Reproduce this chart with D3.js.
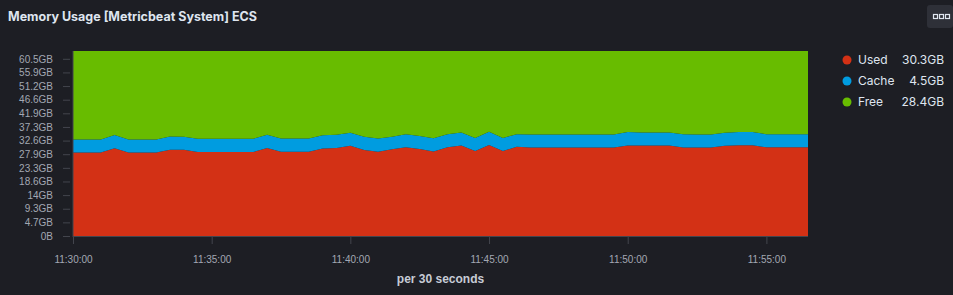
<!DOCTYPE html>
<html><head><meta charset="utf-8">
<script src="https://cdn.jsdelivr.net/npm/d3@7"></script>
<style>
html,body{margin:0;padding:0;background:#1d1e24;}
svg{display:block;}
</style></head>
<body>
<svg id="c" width="953" height="295"></svg>
<script>
// ---- data (GiB), one point per 30 seconds starting 11:30:00 ----
const startTime = "2024-01-01T11:30:00";
const stepSeconds = 30;
const used = [28.5,28.5,28.5,30.0,28.5,28.5,28.5,29.5,29.5,28.7,28.7,28.7,28.7,28.7,30.1,28.8,28.8,28.8,29.9,30.1,30.8,29.4,28.8,29.6,30.3,29.7,28.9,30.3,30.9,29.0,31.1,29.0,30.5,30.2,30.2,30.2,30.2,30.2,30.2,30.2,30.9,30.9,30.9,30.9,30.2,30.2,30.2,30.8,31.0,31.0,30.3,30.3,30.3,30.3];
const cache = [4.5,4.5,4.5,4.5,4.5,4.5,4.5,4.5,4.4,4.5,4.5,4.5,4.5,4.5,4.5,4.5,4.5,4.5,4.5,4.5,4.5,4.5,4.5,4.3,4.5,4.5,4.5,4.5,4.5,4.5,4.5,4.5,4.3,4.5,4.5,4.5,4.5,4.5,4.5,4.5,4.6,4.5,4.5,4.5,4.6,4.5,4.5,4.5,4.5,4.5,4.5,4.5,4.5,4.5];
const free = [30.2,30.2,30.2,28.7,30.2,30.2,30.2,29.2,29.3,30.0,30.0,30.0,30.0,30.0,28.6,29.9,29.9,29.9,28.8,28.6,27.9,29.3,29.9,29.3,28.4,29.0,29.8,28.4,27.8,29.7,27.6,29.7,28.4,28.5,28.5,28.5,28.5,28.5,28.5,28.5,27.7,27.8,27.8,27.8,28.4,28.5,28.5,27.9,27.7,27.7,28.4,28.4,28.4,28.4];
const seriesNames = ["Used","Cache","Free"];
const seriesColors = ["#D33115","#009CE0","#68BC00"];
const legendValues = ["30.3GB","4.5GB","28.4GB"];
const yTickBytes = [0,5e9,10e9,15e9,20e9,25e9,30e9,35e9,40e9,45e9,50e9,55e9,60e9,65e9];
const yTickLabels = ["0B","4.7GB","9.3GB","14GB","18.6GB","23.3GB","27.9GB","32.6GB","37.3GB","41.9GB","46.6GB","51.2GB","55.9GB","60.5GB"];
const xTickTimes = ["11:30:00","11:35:00","11:40:00","11:45:00","11:50:00","11:55:00"];
const yMaxGiB = 63.2;
const title = "Memory Usage [Metricbeat System] ECS";
const xAxisLabel = "per 30 seconds";

const GiB = Math.pow(2,30);
const t0 = new Date(startTime);
const rows = used.map((u,i)=>({
  t: new Date(t0.getTime() + i*stepSeconds*1000),
  Used: u*GiB, Cache: cache[i]*GiB, Free: free[i]*GiB
}));

const svg = d3.select("#c");
const L = 73, R = 808, T = 51, B = 236;

const x = d3.scaleTime().domain([rows[0].t, rows[rows.length-1].t]).range([L, R]);
const y = d3.scaleLinear().domain([0, yMaxGiB*GiB]).range([B, T]);

// title
svg.append("text").attr("x",8).attr("y",21)
  .attr("font-family","Inter, 'Noto Sans', sans-serif").attr("font-weight",700)
  .attr("font-size",12.5).attr("fill","#dfe5ef").text(title);

// options button
const btn = svg.append("g");
btn.append("rect").attr("x",927).attr("y",5).attr("width",26).attr("height",23).attr("rx",3).attr("fill","#2e3038");
[933,939,945].forEach(bx=>btn.append("rect").attr("x",bx+0.5).attr("y",14.5).attr("width",4).attr("height",4)
  .attr("fill","none").attr("stroke","#dfe5ef").attr("stroke-width",1.2));

// stacked areas
const stack = d3.stack().keys(seriesNames);
const layers = stack(rows);
const area = d3.area().x(d=>x(d.data.t)).y0(d=>y(d[0])).y1(d=>y(d[1]));
svg.append("g").selectAll("path").data(layers).join("path")
  .attr("d", area).attr("fill",(d,i)=>seriesColors[i]);

// y axis
const yAxis = d3.axisLeft(y).tickValues(yTickBytes).tickFormat((d,i)=>yTickLabels[i]).tickSize(7).tickPadding(10);
const gy = svg.append("g").attr("transform",`translate(${L-3},0)`).call(yAxis);
gy.select(".domain").remove();
gy.selectAll(".tick line").attr("stroke","#43454d");
gy.selectAll("text").attr("fill","#a3a8b3").attr("font-size",10)
  .attr("font-family","'Liberation Sans', Arial, sans-serif");
svg.append("line").attr("x1",L).attr("x2",L).attr("y1",T).attr("y2",B+1).attr("stroke","#43454d");

// x axis
const xTicks = xTickTimes.map(s=>new Date(startTime.slice(0,11)+s));
const xAxis = d3.axisBottom(x).tickValues(xTicks).tickFormat((d,i)=>xTickTimes[i]).tickSize(8).tickPadding(12);
const gx = svg.append("g").attr("transform",`translate(0,${B})`).call(xAxis);
gx.select(".domain").attr("stroke","#43454d").attr("d",`M${L},0.5H${R}`);
gx.selectAll(".tick line").attr("stroke","#43454d");
gx.selectAll("text").attr("fill","#a3a8b3").attr("font-size",10)
  .attr("font-family","'Liberation Sans', Arial, sans-serif");

svg.append("text").attr("x",(L+R)/2).attr("y",283).attr("text-anchor","middle")
  .attr("font-family","'Liberation Sans', Arial, sans-serif").attr("font-weight",700)
  .attr("font-size",12).attr("fill","#c7ccd6").text(xAxisLabel);

// legend
const lg = svg.append("g");
seriesNames.forEach((n,i)=>{
  const cy = 60 + i*21;
  lg.append("circle").attr("cx",847).attr("cy",cy).attr("r",4.5).attr("fill",seriesColors[i]);
  lg.append("text").attr("x",858).attr("y",cy+4).attr("font-family","Inter, 'Noto Sans', sans-serif")
    .attr("font-size",12).attr("fill","#dfe5ef").text(n);
  lg.append("text").attr("x",944).attr("y",cy+4).attr("text-anchor","end").attr("font-family","Inter, 'Noto Sans', sans-serif")
    .attr("font-size",12).attr("fill","#dfe5ef").text(legendValues[i]);
});
</script>
</body></html>
